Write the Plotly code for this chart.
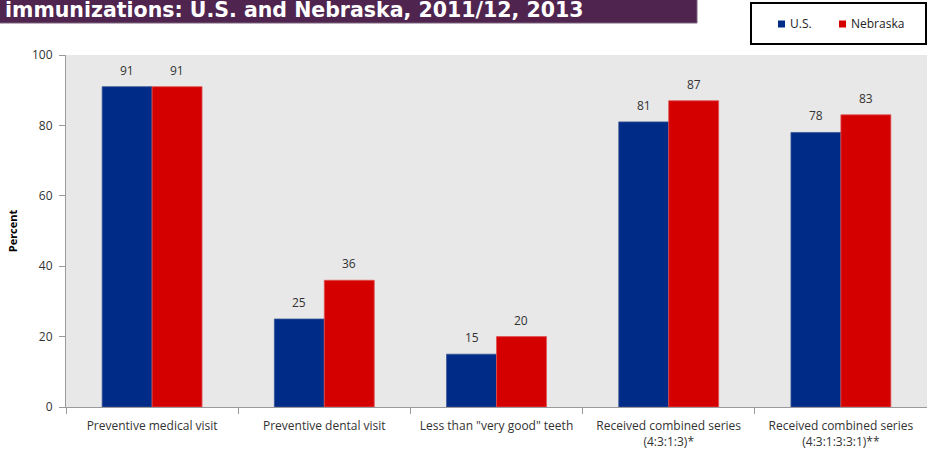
import plotly.graph_objects as go

# Chart data
categories = [
    "Preventive medical visit",
    "Preventive dental visit",
    "Less than \"very good\" teeth",
    "Received combined series<br>(4:3:1:3)*",
    "Received combined series<br>(4:3:1:3:3:1)**",
]
us_values = [91, 25, 15, 81, 78]
ne_values = [91, 36, 20, 87, 83]
series_names = ["U.S.", "Nebraska"]
y_ticks = [0, 20, 40, 60, 80, 100]
title_text = "immunizations: U.S. and Nebraska, 2011/12, 2013"

# Figure geometry (pixels)
W, H = 927, 453
L, R, T, B = 66, 0, 55, 46
PW, PH = W - L - R, H - T - B

BLUE = "#002b87"
RED = "#d40000"
PURPLE = "#4f2550"
BAR_GAP = 0.42


def px_x(px):
    return (px - L) / PW


def px_y(py):
    return (H - B - py) / PH


fig = go.Figure()
for name, vals, col, edge in [
    (series_names[0], us_values, BLUE, "#3b5596"),
    (series_names[1], ne_values, RED, "#e05050"),
]:
    fig.add_trace(go.Bar(
        x=categories, y=vals, name=name,
        marker=dict(color=col, line=dict(color=edge, width=0.8)),
        showlegend=False,
    ))

# Value labels above each bar
half = (1 - BAR_GAP) / 4
annotations = []
for i in range(len(categories)):
    for vals, off in [(us_values, -half), (ne_values, half)]:
        annotations.append(dict(
            x=i + off, y=vals[i], xref="x", yref="y",
            text=str(vals[i]), showarrow=False,
            yanchor="bottom", yshift=6,
            font=dict(family="Open Sans", size=12, color="#333333"),
        ))

# Title banner text (top runs off the page edge)
annotations.append(dict(
    x=px_x(3), y=px_y(10), xref="paper", yref="paper",
    xanchor="left", yanchor="middle", showarrow=False,
    text="<b>" + title_text + "</b>",
    font=dict(family="DejaVu Sans", size=20.5, color="white"),
))

# Legend entries
for label, col, sx in [(series_names[0], BLUE, 778), (series_names[1], RED, 839)]:
    annotations.append(dict(
        x=px_x(sx + 10), y=px_y(23.5), xref="paper", yref="paper",
        xanchor="left", yanchor="middle", showarrow=False,
        text=label, font=dict(family="Open Sans", size=12, color="#222222"),
    ))

shapes = [
    # title banner
    dict(type="rect", xref="paper", yref="paper",
         x0=px_x(-2), x1=px_x(697), y0=px_y(-2), y1=px_y(23),
         fillcolor=PURPLE, line=dict(color="#7d627d", width=1), layer="below"),
    # legend frame
    dict(type="rect", xref="paper", yref="paper",
         x0=px_x(751), x1=px_x(926), y0=px_y(44), y1=px_y(3),
         fillcolor="white", line=dict(color="black", width=2)),
]
for col, sx in [(BLUE, 778), (RED, 839)]:
    shapes.append(dict(type="rect", xref="paper", yref="paper",
                       x0=px_x(sx), x1=px_x(sx + 7), y0=px_y(27.5), y1=px_y(20.5),
                       fillcolor=col, line=dict(width=0)))

fig.update_layout(
    width=W, height=H,
    margin=dict(l=L, r=R, t=T, b=B, pad=0),
    paper_bgcolor="white",
    plot_bgcolor="#e8e8e8",
    barmode="group",
    bargap=BAR_GAP,
    bargroupgap=0,
    annotations=annotations,
    shapes=shapes,
    font=dict(family="Open Sans", size=12, color="#333333"),
)
fig.update_xaxes(
    showline=True, linecolor="#9a9a9a", linewidth=1,
    ticks="outside", tickson="boundaries", ticklen=6, tickcolor="#9a9a9a",
    tickfont=dict(family="Open Sans", size=12, color="#333333"),
    ticklabelstandoff=8,
    showgrid=False,
)
fig.update_yaxes(
    range=[0, 100], tickvals=y_ticks,
    showline=True, linecolor="#9a9a9a", linewidth=1,
    ticks="outside", ticklen=6, tickcolor="#9a9a9a",
    tickfont=dict(family="Open Sans", size=12, color="#333333"),
    ticklabelstandoff=4,
    showgrid=False, zeroline=False,
    title=dict(text="<b>Percent</b>", standoff=12,
               font=dict(family="Open Sans", size=11, color="black")),
)

fig.write_html("out.html")
